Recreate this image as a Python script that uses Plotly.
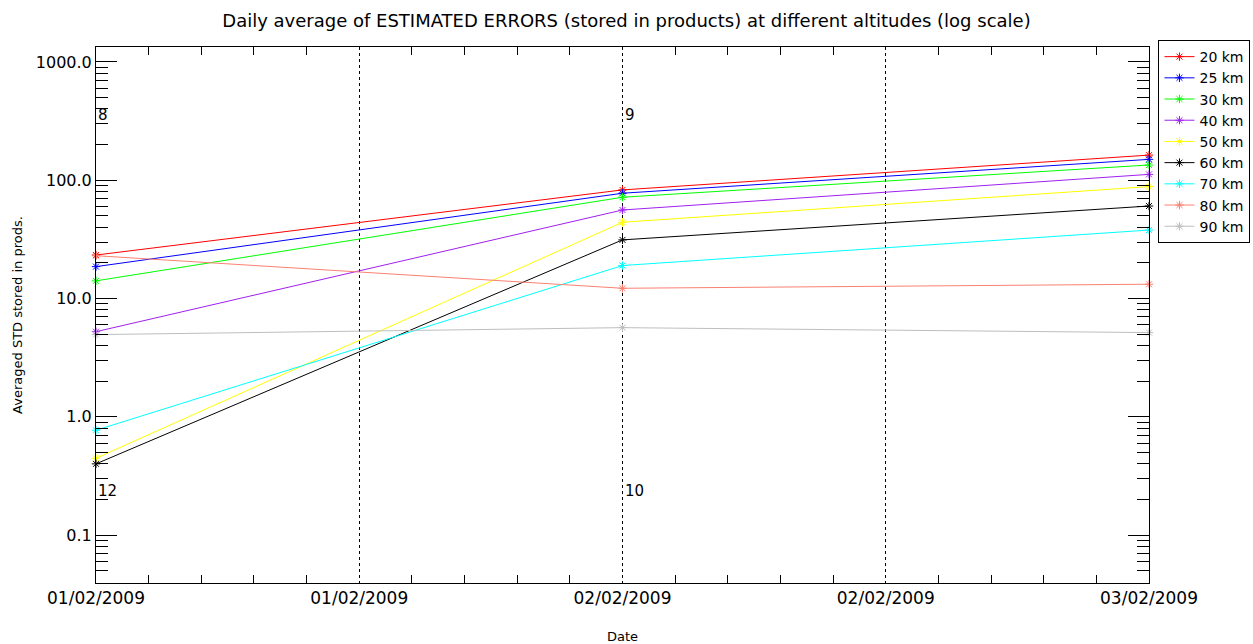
import plotly.graph_objects as go

dates = ["2009-02-01", "2009-02-02", "2009-02-03"]
altitudes = ["20 km", "25 km", "30 km", "40 km", "50 km", "60 km", "70 km", "80 km", "90 km"]
colors = ["#ff0000", "#0000ff", "#00ff00", "#a020f0", "#ffff00", "#000000", "#00ffff", "#fa8072", "#bebebe"]

err_20 = [23.3, 82.8, 163.0]
err_25 = [18.6, 77.6, 150.0]
err_30 = [14.1, 71.8, 134.5]
err_40 = [5.24, 56.0, 112.0]
err_50 = [0.446, 44.1, 88.3]
err_60 = [0.40, 31.3, 60.5]
err_70 = [0.77, 19.0, 37.9]
err_80 = [23.0, 12.2, 13.2]
err_90 = [4.95, 5.67, 5.15]
series = [err_20, err_25, err_30, err_40, err_50, err_60, err_70, err_80, err_90]

count_dates = ["2009-02-01", "2009-02-02"]
count_top = ["8", "9"]
count_bottom = ["12", "10"]

FONT = "DejaVu Sans"

fig = go.Figure()
for name, col, vals in zip(altitudes, colors, series):
    fig.add_trace(go.Scatter(
        x=dates, y=vals, name=name, mode="lines+markers",
        line=dict(color=col, width=1),
        marker=dict(symbol="asterisk-open", size=7, color=col, line=dict(color=col, width=1)),
        cliponaxis=False,
    ))

for d, t in zip(count_dates, count_top):
    fig.add_annotation(x=d, y=2.553, yref="y", text=t, showarrow=False,
                       xanchor="left", xshift=0, font=dict(family=FONT, size=15, color="black"))
for d, t in zip(count_dates, count_bottom):
    fig.add_annotation(x=d, y=-0.626, yref="y", text=t, showarrow=False,
                       xanchor="left", xshift=0, font=dict(family=FONT, size=15, color="black"))

fig.update_layout(
    width=1253, height=644,
    margin=dict(l=96, r=104, t=47, b=61, autoexpand=False),
    paper_bgcolor="white", plot_bgcolor="white",
    font=dict(family=FONT, size=15, color="black"),
    title=dict(text="Daily average of ESTIMATED ERRORS (stored in products) at different altitudes (log scale)",
               x=0.5, xanchor="center", y=0.968, yanchor="middle",
               font=dict(family=FONT, size=18, color="black")),
    showlegend=True,
    legend=dict(x=1.009, y=1.013, xanchor="left", yanchor="top",
                bordercolor="black", borderwidth=1, bgcolor="white",
                font=dict(family=FONT, size=14, color="black"),
                itemwidth=30, tracegroupgap=0),
)

fig.update_xaxes(
    type="date", range=["2009-02-01", "2009-02-03"],
    tickformat="%d/%m/%Y", dtick=43200000, tick0="2009-02-01",
    ticks="", showline=True, linecolor="black", linewidth=1, mirror="ticks",
    showgrid=True, gridcolor="black", gridwidth=1, griddash="dot",
    minor=dict(dtick=8640000, tick0="2009-02-01", ticks="inside", ticklen=8,
               tickcolor="black", showgrid=False),
    tickfont=dict(family=FONT, size=17),
    title=dict(text="Date", font=dict(family=FONT, size=13), standoff=24),
    zeroline=False, automargin=False,
)
fig.update_yaxes(
    type="log", range=[-1.405, 3.126],
    dtick=1, tickformat=".1f",
    ticks="inside", ticklen=21, tickcolor="black",
    showline=True, linecolor="black", linewidth=1, mirror="ticks",
    showgrid=False, zeroline=False, automargin=False,
    minor=dict(ticks="inside", ticklen=12, tickcolor="black", dtick="D1", showgrid=False),
    tickfont=dict(family=FONT, size=16),
    title=dict(text="Averaged STD stored in prods.", font=dict(family=FONT, size=13), standoff=10),
)

fig.write_html("out.html", config={"displayModeBar": False},
               post_script="document.body.style.margin='0';")
